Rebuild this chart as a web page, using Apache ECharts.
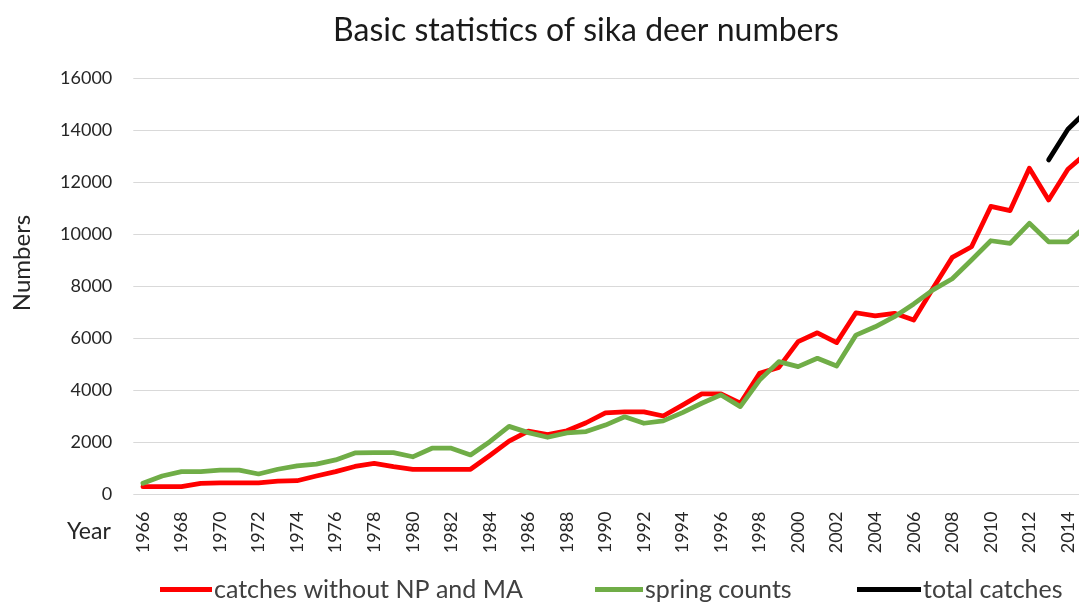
<!DOCTYPE html>
<html>
<head>
<meta charset="utf-8">
<script src="https://cdn.jsdelivr.net/npm/echarts@6/dist/echarts.min.js"></script>
<style>
    html, body {margin: 0; padding: 0; background: #fff; overflow: hidden;}
    /*  原图右侧被裁切，画布比窗口略宽  */
    #chart {width: 1100px; height: 605px;}
</style>
</head>
<body>
<div id="chart"></div>
<script>
//  年份
const years = ['1966', '1967', '1968', '1969', '1970', '1971', '1972', '1973', '1974', '1975',
    '1976', '1977', '1978', '1979', '1980', '1981', '1982', '1983', '1984', '1985',
    '1986', '1987', '1988', '1989', '1990', '1991', '1992', '1993', '1994', '1995',
    '1996', '1997', '1998', '1999', '2000', '2001', '2002', '2003', '2004', '2005',
    '2006', '2007', '2008', '2009', '2010', '2011', '2012', '2013', '2014', '2015'];
//  catches without NP and MA
const catchesNoNpMa = [300, 300, 300, 430, 450, 450, 450, 510, 530, 710,
    880, 1080, 1200, 1070, 970, 970, 970, 970, 1500, 2050,
    2440, 2300, 2450, 2760, 3140, 3180, 3180, 3020, 3440, 3870,
    3870, 3510, 4660, 4890, 5880, 6220, 5840, 6990, 6870, 6970,
    6710, 7930, 9120, 9530, 11080, 10920, 12550, 11330, 12510, 13150];
//  spring counts
const springCounts = [430, 710, 880, 880, 940, 940, 790, 970, 1100, 1170,
    1330, 1600, 1610, 1610, 1450, 1780, 1780, 1520, 2030, 2620,
    2380, 2200, 2370, 2420, 2670, 2990, 2740, 2830, 3150, 3510,
    3830, 3380, 4400, 5110, 4920, 5240, 4940, 6130, 6450, 6840,
    7330, 7870, 8300, 9020, 9760, 9660, 10430, 9720, 9720, 10350];
//  total catches (only the last years)
const totalCatches = [null, null, null, null, null, null, null, null, null, null,
    null, null, null, null, null, null, null, null, null, null,
    null, null, null, null, null, null, null, null, null, null,
    null, null, null, null, null, null, null, null, null, null,
    null, null, null, null, null, null, null, 12870, 14050, 14770];
//  y 轴刻度
const yTicks = [0, 2000, 4000, 6000, 8000, 10000, 12000, 14000, 16000];

const seriesNames = ['catches without NP and MA', 'spring counts', 'total catches'];
const seriesColors = ['#FF0000', '#70AD47', '#000000'];
const fontFamily = 'Lato, "Open Sans", sans-serif';

const lineSeries = function (name, data, color) {
    return {
        name: name,
        type: 'line',
        data: data,
        color: color,
        symbol: 'none',
        connectNulls: false,
        animation: false,
        lineStyle: {
            width: 4.75,
            color: color,
            cap: 'round',
            join: 'round',
        },
    };
};

//  图例：每项单独放置
const legendAt = function (name, left, itemWidth) {
    return {
        data: [name],
        left: left,
        top: 577,
        icon: 'rect',
        itemWidth: itemWidth,
        itemHeight: 5,
        selectedMode: false,
        padding: 0,
        textStyle: {
            fontFamily: fontFamily,
            fontSize: 25,
            color: '#404040',
            padding: [0, 0, 0, -3],
        },
    };
};

const myChart = echarts.init(document.getElementById('chart'));
myChart.setOption({
    animation: false,
    backgroundColor: '#FFFFFF',
    title: {
        text: 'Basic statistics of sika deer numbers',
        left: 581,
        top: 10,
        textAlign: 'center',
        textStyle: {
            fontFamily: fontFamily,
            fontSize: 32,
            fontWeight: 'normal',
            color: '#1a1a1a',
        },
    },
    legend: [
        legendAt(seriesNames[0], 160, 52),
        legendAt(seriesNames[1], 595, 48),
        legendAt(seriesNames[2], 857, 64),
    ],
    grid: {
        left: 133.3,
        top: 78.5,
        width: 963.5,
        height: 416,
        containLabel: false,
    },
    graphic: [
        {
            type: 'text',
            left: 67,
            top: 520,
            style: {
                text: 'Year',
                font: '23px ' + fontFamily,
                fill: '#262626',
            },
        },
        {
            type: 'text',
            x: 22,
            y: 263,
            rotation: Math.PI / 2,
            style: {
                text: 'Numbers',
                font: '24px ' + fontFamily,
                fill: '#262626',
                align: 'center',
                verticalAlign: 'middle',
            },
        },
    ],
    xAxis: {
        type: 'category',
        data: years,
        boundaryGap: true,
        axisLine: {show: false},
        axisTick: {show: false},
        axisLabel: {
            interval: 1,
            rotate: 90,
            margin: 17,
            fontFamily: fontFamily,
            fontSize: 18,
            color: '#262626',
        },
    },
    yAxis: {
        type: 'value',
        min: yTicks[0],
        max: yTicks[yTicks.length - 1],
        interval: 2000,
        axisLine: {show: false},
        axisTick: {show: false},
        axisLabel: {
            margin: 21,
            fontFamily: fontFamily,
            fontSize: 18,
            color: '#262626',
            formatter: function (value) {
                return String(value);
            },
        },
        splitLine: {
            lineStyle: {color: '#D9D9D9', width: 1},
        },
    },
    series: [
        lineSeries(seriesNames[0], catchesNoNpMa, seriesColors[0]),
        lineSeries(seriesNames[1], springCounts, seriesColors[1]),
        lineSeries(seriesNames[2], totalCatches, seriesColors[2]),
    ],
});
</script>
</body>
</html>
